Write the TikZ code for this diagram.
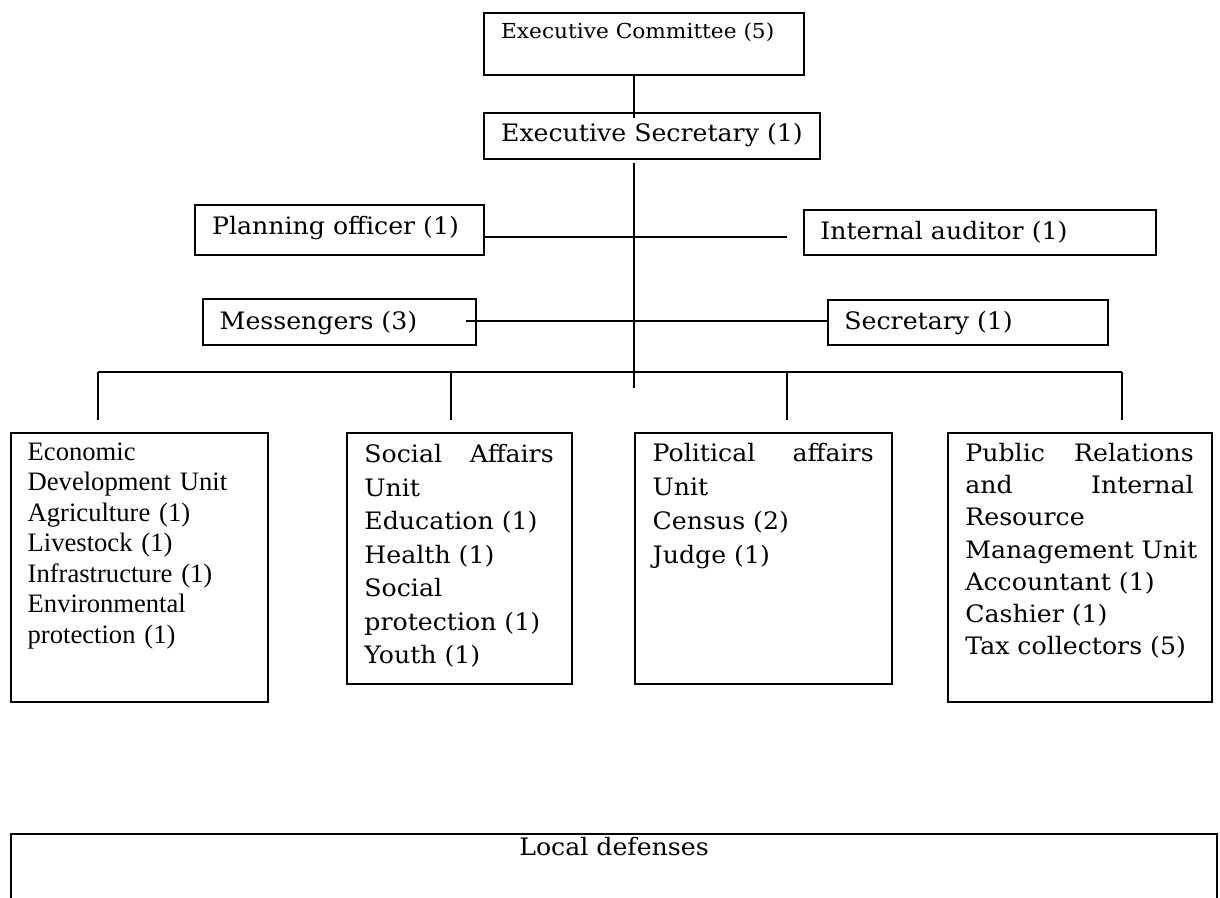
\documentclass[tikz,border=0pt]{standalone}
\usepackage{fontspec}
\newfontfamily\chr{DejaVu Serif}[FakeStretch=1.05]
\newfontfamily\tms{Liberation Serif}
\newcommand\unitfont[1]{\chr\fontsize{12pt}{#1}\selectfont}
\tikzset{
  orgbox/.style={draw, line width=1.05pt, rectangle, inner sep=0pt, anchor=north west},
  wire/.style={line width=1.05pt},
  lbl/.style={inner sep=0pt, anchor=base west, font=\chr\fontsize{12pt}{16.5pt}\selectfont},
  smalllbl/.style={lbl, font=\chr\fontsize{10.33pt}{12pt}\selectfont},
  unittext/.style={inner sep=0pt, anchor=north west, align=left, font=\unitfont{#1}},
  timestext/.style={inner sep=0pt, anchor=north west, align=left, font=\tms\fontsize{13.3pt}{15.25pt}\selectfont},
}
\begin{document}
\begin{tikzpicture}[x=0.5pt, y=-0.5pt]
  \clip (0,0) rectangle (1220,898);
  \fill[white] (0,0) rectangle (1220,898);

  % top of the hierarchy
  \node[orgbox, minimum width=160pt, minimum height=31pt] (ec) at (483,12) {};
  \node[smalllbl] (ect) at (500.7,38.3) {Executive Committee (5)};
  \node[orgbox, minimum width=168pt, minimum height=23pt] (es) at (483,112) {};
  \node[lbl] (est) at (500.7,141.7) {Executive Secretary (1)};

  % staff positions
  \node[orgbox, minimum width=144.35pt, minimum height=25pt] (po) at (194,204) {};
  \node[lbl] (pot) at (211.7,235) {Planning officer (1)};
  \node[orgbox, minimum width=176.15pt, minimum height=22.5pt] (ia) at (802.7,209) {};
  \node[lbl] (iat) at (820,240) {Internal auditor (1)};
  \node[orgbox, minimum width=136.35pt, minimum height=22.85pt] (ms) at (202.3,298.3) {};
  \node[lbl] (mst) at (219.3,329.3) {Messengers (3)};
  \node[orgbox, minimum width=140.3pt, minimum height=22.5pt] (se) at (826.7,299) {};
  \node[lbl] (set) at (844,330) {Secretary (1)};

  % units
  \node[orgbox, minimum width=128.35pt, minimum height=134.35pt] (eu) at (10,432.3) {};
  \node[timestext, text width=120pt] (eut) at (27.3,438.65) {\strut Economic\\Development Unit\\Agriculture (1)\\Livestock (1)\\Infrastructure (1)\\Environmental\\protection (1)};
  \node[orgbox, minimum width=112.5pt, minimum height=125.5pt] (su) at (346,432.3) {};
  \node[unittext=16.75pt, text width=94.65pt] (sut) at (364,438.85) {\strut Social\hfill Affairs\\Unit\\Education (1)\\Health (1)\\Social\\protection (1)\\Youth (1)};
  \node[orgbox, minimum width=128.35pt, minimum height=125.2pt] (pu) at (634.3,432.3) {};
  \node[unittext=17pt, text width=110.5pt] (put) at (652.3,437.2) {\strut Political\hfill affairs\\Unit\\Census (2)\\Judge (1)};
  \node[orgbox, minimum width=132.15pt, minimum height=134.35pt] (ru) at (946.7,432.3) {};
  \node[unittext=16.1pt, text width=114.15pt] (rut) at (965,438.46) {\strut Public\hfill Relations\\and\hfill Internal\\Resource\\\mbox{Management Unit}\\Accountant (1)\\Cashier (1)\\Tax collectors (5)};

  % local defenses, running off the lower edge
  \node[orgbox, minimum width=603.25pt, minimum height=58.35pt] (ld) at (9.5,833.3) {};
  \node[lbl, anchor=base] (ldt) at (614,855) {Local defenses};

  % connectors
  \coordinate (spine) at (634,0);
  \coordinate (sptop) at (634,163);
  \coordinate (spbot) at (634,388);
  \coordinate (plrow) at (0,236.7);
  \coordinate (plend) at (786.7,236.7);
  \coordinate (msin) at (466,320.7);
  \coordinate (bus) at (0,372);
  \coordinate (d1) at (98.3,420);
  \coordinate (d2) at (450.7,420);
  \coordinate (d3) at (786.7,420);
  \coordinate (d4) at (1122.3,420);

  \draw[wire] (ec.south -| spine) -- ([yshift=-3pt]es.north -| spine);
  \draw[wire] (sptop) -- (spbot);
  \draw[wire] (po.east |- plrow) -- (plend);
  \draw[wire] (msin) -- (msin -| se.west);
  \draw[wire] (d1 |- bus) -- (d4 |- bus);
  \draw[wire] (d1 |- bus) -- (d1);
  \draw[wire] (d2 |- bus) -- (d2);
  \draw[wire] (d3 |- bus) -- (d3);
  \draw[wire] (d4 |- bus) -- (d4);
\end{tikzpicture}
\end{document}
